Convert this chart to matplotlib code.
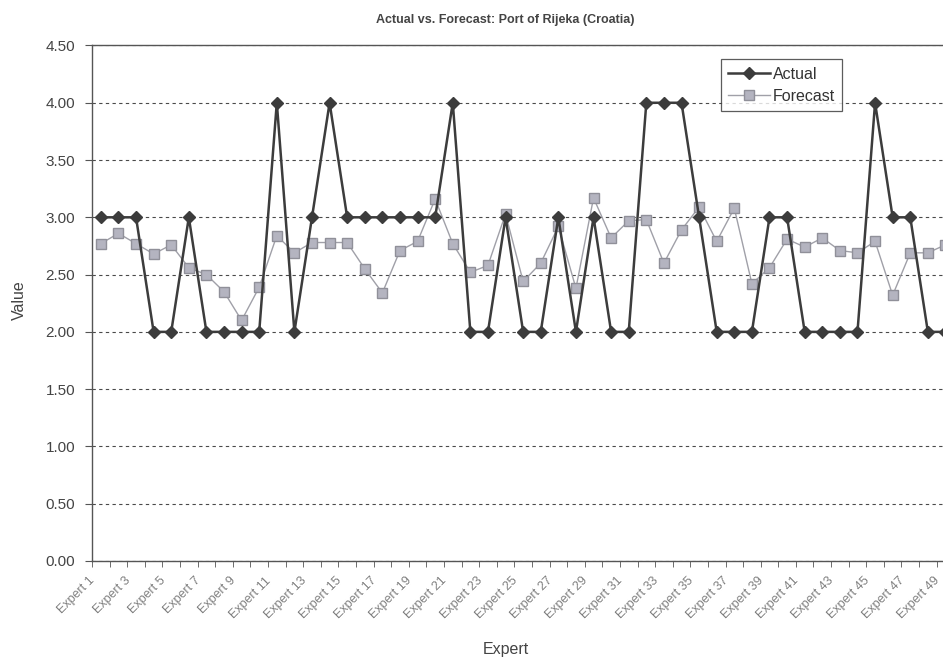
import numpy as np
import matplotlib
matplotlib.use("Agg")
import matplotlib.pyplot as plt
from matplotlib.transforms import ScaledTranslation

plt.rcParams['font.family'] = ['Liberation Sans', 'DejaVu Sans']

# experts shown in the chart (right end is cut off in the scan)
experts = [f"Expert {i}" for i in range(1, 50)]

actual = [3, 3, 3, 2, 2, 3, 2, 2, 2, 2,
          4, 2, 3, 4, 3, 3, 3, 3, 3, 3,
          4, 2, 2, 3, 2, 2, 3, 2, 3, 2,
          2, 4, 4, 4, 3, 2, 2, 2, 3, 3,
          2, 2, 2, 2, 4, 3, 3, 2, 2]

forecast = [2.77, 2.86, 2.77, 2.68, 2.76, 2.56, 2.50, 2.35, 2.10, 2.39,
            2.84, 2.69, 2.78, 2.78, 2.78, 2.55, 2.34, 2.71, 2.79, 3.16,
            2.77, 2.52, 2.58, 3.03, 2.44, 2.60, 2.92, 2.38, 3.17, 2.82,
            2.97, 2.98, 2.60, 2.89, 3.09, 2.79, 3.08, 2.42, 2.56, 2.81,
            2.74, 2.82, 2.71, 2.69, 2.79, 2.32, 2.69, 2.69, 2.76]

n_categories = 50  # plot area runs past the right edge of the image

fig = plt.figure(figsize=(9.43, 6.66), dpi=100)
ax = fig.add_axes([0.0976, 0.1577, 0.933, 0.774])

x = np.arange(1, len(experts) + 1)

# gridlines behind the data
ax.set_ylim(0, 4.5)
ax.set_yticks(np.arange(0, 4.51, 0.5))
ax.yaxis.grid(True, linestyle=(0, (3, 3)), color='#4a4a4a', linewidth=0.8)
ax.set_axisbelow(True)

ax.plot(x, forecast, color='#a0a0a8', linewidth=1.0, marker='s', markersize=6.5,
        markerfacecolor='#b4b4c0', markeredgecolor='#909099', label='Forecast')
ax.plot(x, actual, color='#3c3c3c', linewidth=1.8, marker='D', markersize=6.5,
        markerfacecolor='#3c3c3c', markeredgecolor='#3c3c3c', label='Actual')

ax.set_xlim(0.5, n_categories + 0.5)

# labels on every other expert, tick marks between categories
ax.set_xticks(x[::2])
ax.set_xticklabels(experts[::2], rotation=45, ha='right', rotation_mode='anchor',
                   fontsize=9, color='#808080')
ax.tick_params(axis='x', which='major', length=0, pad=10)
shift = ScaledTranslation(-12 / 100, 0, fig.dpi_scale_trans)
for lbl in ax.get_xticklabels():
    lbl.set_transform(lbl.get_transform() + shift)
ax.set_xticks(np.arange(0.5, n_categories + 0.6, 1), minor=True)
ax.tick_params(axis='x', which='minor', length=4, direction='out', color='#555555')

ax.set_yticklabels([f"{v:.2f}" for v in np.arange(0, 4.51, 0.5)],
                   fontsize=11, color='#444444')
ax.tick_params(axis='y', length=5, direction='out', color='#555555', pad=7)

for side in ['left', 'bottom', 'top']:
    ax.spines[side].set_color('#555555')
    ax.spines[side].set_linewidth(1.0)
ax.spines['right'].set_visible(False)

fig.text(0.021, 0.55, "Value", rotation=90, ha='center', va='center',
         fontsize=11.5, color='#444444')
fig.text(0.536, 0.025, "Expert", ha='center', va='center',
         fontsize=11.5, color='#444444')
fig.text(0.536, 0.970, "Actual vs. Forecast: Port of Rijeka (Croatia)",
         ha='center', va='center', fontsize=9, color='#444444', weight='bold')

# legend order: Actual first
handles, labels = ax.get_legend_handles_labels()
leg = ax.legend(handles[::-1], labels[::-1], loc='upper left',
                bbox_to_anchor=(0.715, 0.973), fontsize=11.5,
                frameon=True, fancybox=False, edgecolor='#333333',
                handlelength=2.6, borderpad=0.45, labelspacing=0.45,
                handletextpad=0.2, borderaxespad=0)
leg.get_frame().set_linewidth(0.9)
for t in leg.get_texts():
    t.set_color('#333333')

fig.savefig("out.png", dpi=100)
